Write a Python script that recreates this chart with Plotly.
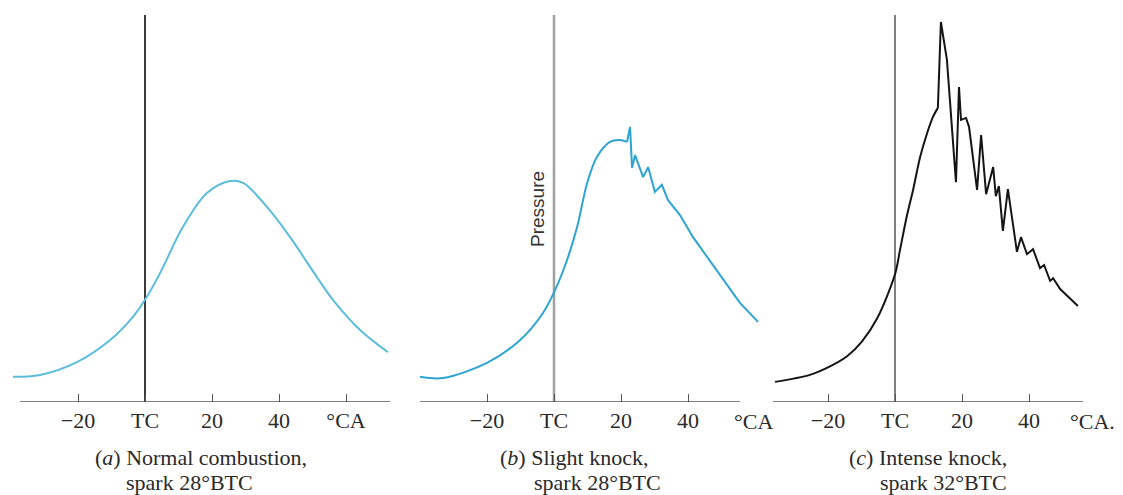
import plotly.graph_objects as go

# ---- data (crank angle in degrees, pressure in arbitrary units) ----
a_deg = [-39.4, -31.3, -20.3, -10.4, -3.6, 0, 4.5, 11.3, 18.5, 25.4, 29.3, 36.4, 43.3, 51.3, 56.1, 64.2, 72.5]
a_p = [6.5, 7.0, 10.3, 16.0, 22.0, 26.4, 33.3, 45.2, 54.0, 57.1, 56.6, 50.4, 42.6, 32.3, 26.4, 18.6, 12.9]

b_deg = [-40.0, -33.1, -20.0, -10.1, -3.3, 0.3, 3.9, 6.9, 9.9, 12.8, 16.7, 19.7, 21.8,
         22.7, 23.3, 24.2, 26.6, 28.1, 30.1, 32.2, 34.0, 37.6, 41.5, 45.7, 50.4, 55.5, 60.9]
b_p = [6.5, 6.2, 10.1, 16.0, 23.0, 28.9, 36.7, 45.2, 56.6, 63.3, 67.2, 67.7, 67.2,
       71.1, 60.5, 63.8, 58.1, 60.7, 54.3, 56.1, 52.2, 48.3, 42.6, 37.5, 31.5, 25.6, 20.7]
b_split = 12

c_deg = [-35.8, -25.4, -19.4, -14.3, -9.9, -5.4, 0.0, 1.5, 3.6, 5.4, 7.5, 9.6, 11.3, 12.8,
         13.7, 15.5, 18.2, 19.1, 19.7, 21.2, 22.1, 24.5, 25.7, 27.2, 29.3, 30.1, 31.0, 32.2, 33.7,
         36.4, 37.6, 39.4, 41.2, 43.3, 44.5, 46.3, 47.2, 49.3, 51.6, 54.6]
c_p = [5.2, 7.0, 9.2, 11.8, 15.6, 21.5, 33.0, 39.3, 48.3, 54.8, 63.3, 69.5, 73.6, 76.0,
       98.2, 88.4, 56.8, 81.4, 72.9, 73.4, 71.1, 54.8, 69.0, 53.7, 60.7, 53.2, 55.8, 44.2, 55.0,
       38.8, 42.6, 38.2, 39.5, 34.6, 35.4, 31.3, 32.0, 29.2, 27.4, 24.8]
c_split = 13

tick_vals = [-20, 0, 20, 40]
tick_text = ["\u221220", "TC", "20", "40"]
unit_label = "\u00b0CA"
captions = [("(<i>a</i>) Normal combustion,", "spark 28\u00b0BTC"),
            ("(<i>b</i>) Slight knock,", "spark 28\u00b0BTC"),
            ("(<i>c</i>) Intense knock,", "spark 32\u00b0BTC")]

# ---- layout geometry (pixels) ----
W, H = 1123, 495
S = 3.35                 # px per degree
Y_BOT, Y_TOP = 402, 15   # px of pressure 0 and 100
panels = [
    dict(dom=(10, 400), tc=145, axis=(20, 390), color="#5bbcdc", vcol="#3a3a3a", vw=2.0),
    dict(dom=(405, 770), tc=554, axis=(420, 740), color="#2ea4d2", vcol="#a0a0a0", vw=2.5),
    dict(dom=(765, 1118), tc=895, axis=(773, 1083), color="#151515", vcol="#606060", vw=1.6),
]
serif = "Liberation Serif, Times New Roman, serif"

fig = go.Figure()
layout = dict(width=W, height=H, margin=dict(l=0, r=0, t=0, b=0),
              paper_bgcolor="white", plot_bgcolor="rgba(0,0,0,0)", showlegend=False)
shapes, annotations = [], []

def deg(px, tc):
    return (px - tc) / S

data = [(a_deg, a_p, None), (b_deg, b_p, b_split), (c_deg, c_p, c_split)]
for i, (pn, (xd, yd, split)) in enumerate(zip(panels, data)):
    sfx = "" if i == 0 else str(i + 1)
    xa, ya = "x" + sfx, "y" + sfx
    if split is None:
        fig.add_trace(go.Scatter(x=xd, y=yd, mode="lines", xaxis=xa, yaxis=ya,
                                 line=dict(color=pn["color"], width=2, shape="spline", smoothing=1.0)))
    else:
        fig.add_trace(go.Scatter(x=xd[:split + 1], y=yd[:split + 1], mode="lines", xaxis=xa, yaxis=ya,
                                 line=dict(color=pn["color"], width=2, shape="spline", smoothing=0.9)))
        fig.add_trace(go.Scatter(x=xd[split:], y=yd[split:], mode="lines", xaxis=xa, yaxis=ya,
                                 line=dict(color=pn["color"], width=2)))
    d0, d1 = pn["dom"]
    tv = tick_vals + ([60] if i == 0 else [])
    tt = tick_text + ([unit_label] if i == 0 else [])
    layout["xaxis" + sfx] = dict(domain=[d0 / W, d1 / W], range=[deg(d0, pn["tc"]), deg(d1, pn["tc"])],
                                 anchor=ya, showgrid=False, zeroline=False, showline=False,
                                 tickmode="array", tickvals=tv, ticktext=tt,
                                 ticks="inside", ticklen=8, tickwidth=1.3, tickcolor="#555",
                                 tickfont=dict(family=serif, size=22, color="#2a2a2a"),
                                 ticklabelstandoff=3, fixedrange=True)
    layout["yaxis" + sfx] = dict(domain=[(H - Y_BOT) / H, (H - Y_TOP) / H], range=[0, 100],
                                 anchor=xa, visible=False, fixedrange=True)
    # axis baseline
    shapes.append(dict(type="line", xref=xa, yref=ya, x0=deg(pn["axis"][0], pn["tc"]),
                       x1=deg(pn["axis"][1], pn["tc"]), y0=0, y1=0,
                       line=dict(color="#555", width=1.5)))
    # TC vertical line
    shapes.append(dict(type="line", xref=xa, yref=ya, x0=0, x1=0, y0=0, y1=100,
                       line=dict(color=pn["vcol"], width=pn["vw"]), layer="below"))

# unit labels for panels b and c
for px, txt in [(753, unit_label), (1092, unit_label + ".")]:
    annotations.append(dict(xref="paper", yref="paper", x=px / W, y=(H - 422) / H, text=txt,
                            showarrow=False, xanchor="center", yanchor="middle",
                            font=dict(family=serif, size=22, color="#2a2a2a")))

cap_pos = [((201, 457), (189, 482)), ((574, 457), (597, 482)), ((928, 457), (943, 482))]
for (l1, l2), ((x1, y1), (x2, y2)) in zip(captions, cap_pos):
    annotations.append(dict(xref="paper", yref="paper", x=x1 / W, y=(H - y1) / H, text=l1,
                            showarrow=False, xanchor="center", yanchor="middle",
                            font=dict(family=serif, size=22, color="#2a2a2a")))
    annotations.append(dict(xref="paper", yref="paper", x=x2 / W, y=(H - y2) / H, text=l2,
                            showarrow=False, xanchor="center", yanchor="middle",
                            font=dict(family=serif, size=22, color="#2a2a2a")))

annotations.append(dict(xref="paper", yref="paper", x=537 / W, y=(H - 209) / H, text="Pressure",
                        textangle=-90, showarrow=False, xanchor="center", yanchor="middle",
                        font=dict(family="Liberation Sans Narrow, Liberation Sans, Arial, sans-serif",
                                  size=19, color="#333")))

layout["shapes"] = shapes
layout["annotations"] = annotations
fig.update_layout(**layout)
fig.write_html("out.html")
